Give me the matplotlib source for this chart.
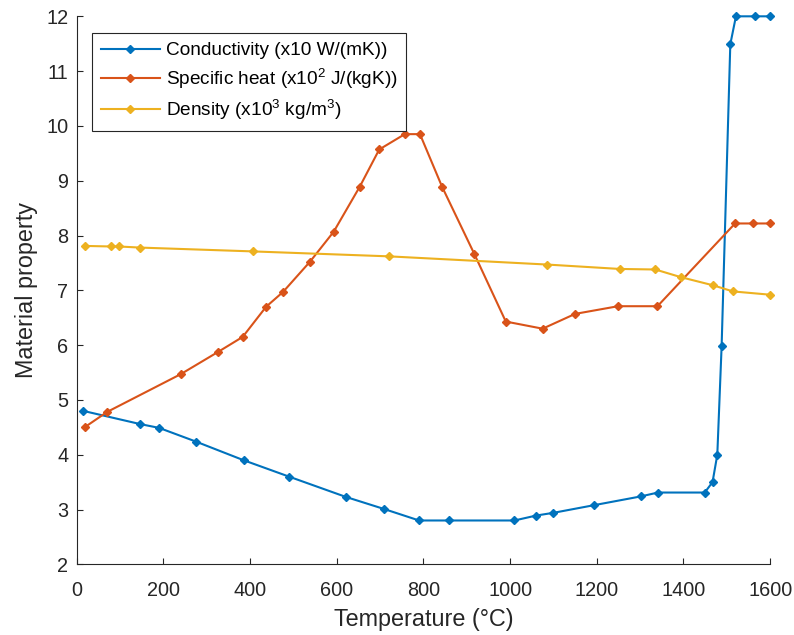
import matplotlib
matplotlib.use("Agg")
import matplotlib.pyplot as plt

plt.rcParams['font.family'] = ['Liberation Sans', 'DejaVu Sans']
plt.rcParams['mathtext.fontset'] = 'custom'
plt.rcParams['mathtext.rm'] = 'Liberation Sans'
plt.rcParams['mathtext.it'] = 'Liberation Sans:italic'

# Conductivity (x10 W/(mK))
cond_T = [15, 146, 190, 275, 385, 490, 621, 709, 790, 858, 1010, 1060, 1100, 1194,
          1302, 1341, 1449, 1467, 1478, 1488, 1508, 1521, 1565, 1600]
cond_v = [4.80, 4.56, 4.49, 4.24, 3.90, 3.60, 3.23, 3.01, 2.80, 2.80, 2.80, 2.89, 2.94, 3.08,
          3.24, 3.31, 3.31, 3.50, 4.00, 5.99, 11.49, 12.0, 12.0, 12.0]

# Specific heat (x10^2 J/(kgK))
cp_T = [20, 70, 240, 327, 383, 437, 476, 538, 593, 653, 698, 757, 792, 843, 917,
        990, 1075, 1150, 1249, 1340, 1519, 1560, 1600]
cp_v = [4.51, 4.78, 5.47, 5.88, 6.15, 6.70, 6.97, 7.52, 8.07, 8.89, 9.57, 9.85, 9.85, 8.89, 7.67,
        6.43, 6.30, 6.57, 6.71, 6.71, 8.22, 8.22, 8.22]

# Density (x10^3 kg/m^3)
rho_T = [20, 79, 97, 146, 407, 720, 1086, 1253, 1335, 1394, 1469, 1514, 1600]
rho_v = [7.81, 7.80, 7.80, 7.78, 7.71, 7.62, 7.47, 7.39, 7.38, 7.24, 7.09, 6.98, 6.92]

labels = ['Conductivity (x10 W/(mK))',
          'Specific heat (x10$^2$ J/(kgK))',
          'Density (x10$^3$ kg/m$^3$)']
colors = ['#0072BD', '#D95319', '#EDB120']

fig = plt.figure(figsize=(7.94, 6.35), dpi=100)
ax = fig.add_axes([0.0966, 0.1113, 0.8734, 0.863])

for T, v, c, lab in zip([cond_T, cp_T, rho_T], [cond_v, cp_v, rho_v], colors, labels):
    ax.plot(T, v, color=c, lw=1.5, marker='D', ms=4.5, label=lab, clip_on=False)

ax.set_xlim(0, 1600)
ax.set_ylim(2, 12)
ax.set_xticks(range(0, 1601, 200))
ax.set_yticks(range(2, 13, 1))
ax.spines['top'].set_visible(False)
ax.spines['right'].set_visible(False)
for s in ['left', 'bottom']:
    ax.spines[s].set_color('#262626')
    ax.spines[s].set_linewidth(0.8)
ax.tick_params(direction='in', labelsize=14.3, colors='#262626', length=4, width=0.8)
ax.tick_params(axis='x', pad=12)
ax.tick_params(axis='y', pad=6)
ax.set_xlabel('Temperature (°C)', fontsize=16.8, color='#262626', labelpad=6)
ax.set_ylabel('Material property', fontsize=16.8, color='#262626', labelpad=6)

leg = ax.legend(loc='upper left', bbox_to_anchor=(0.0222, 0.9693), fontsize=13.7,
                frameon=True, fancybox=False, edgecolor='#262626', framealpha=1,
                handlelength=3.1, borderpad=0.46, labelspacing=0.38, handletextpad=0.3,
                borderaxespad=0)
leg.get_frame().set_linewidth(0.8)

fig.savefig('out.png', dpi=100)
